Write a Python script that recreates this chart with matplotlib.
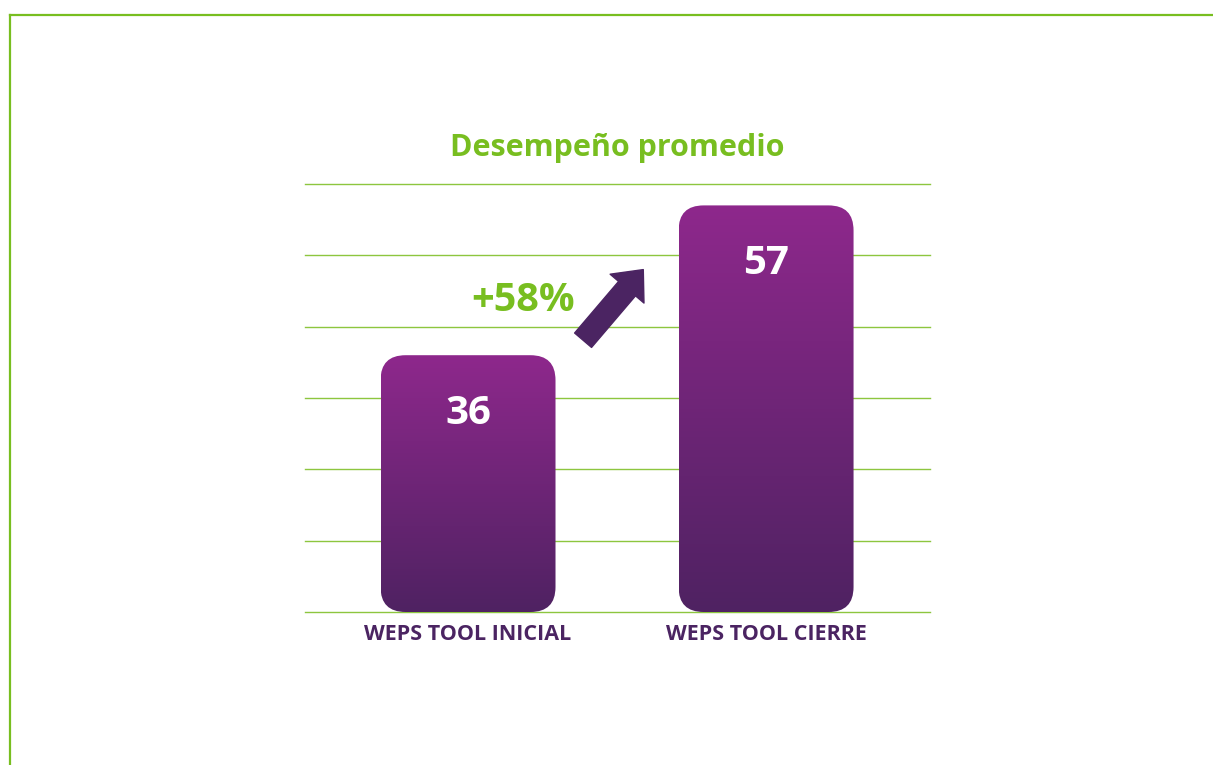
import numpy as np
import matplotlib.pyplot as plt
from matplotlib.patches import FancyBboxPatch
from matplotlib.lines import Line2D
from matplotlib.colors import LinearSegmentedColormap

plt.rcParams['font.family'] = ['Open Sans', 'DejaVu Sans']

categories = ["WEPS TOOL INICIAL", "WEPS TOOL CIERRE"]
values = [36, 57]
change_label = "+58%"
title = "Desempeño promedio"
y_ticks = [0, 10, 20, 30, 40, 50, 60]

green = "#78BE20"
grid_green = "#8DC63F"
dark_purple = "#4B2462"
grad = LinearSegmentedColormap.from_list("bar", ["#4F2262", "#8E288C"])

fig = plt.figure(figsize=(12.13, 7.65), dpi=100)
ax = fig.add_axes([305 / 1213, 153 / 765, 625 / 1213, 428 / 765])

# frame around the whole graphic
fig.add_artist(Line2D([10 / 1213, 1.0], [1 - 14.5 / 765] * 2, color=green, lw=1.6))
fig.add_artist(Line2D([10 / 1213] * 2, [0, 1 - 14.5 / 765], color=green, lw=1.6))

for t in y_ticks:
    ax.axhline(t, color=grid_green, lw=1.0, zorder=0, clip_on=False)
for s in ax.spines.values():
    s.set_visible(False)
ax.set_xticks([])
ax.set_yticks([])

bar_w = 0.587
rx = 0.084
ry = 3.5
gradient = np.linspace(0, 1, 256).reshape(-1, 1)
for i, v in enumerate(values):
    patch = FancyBboxPatch((i - bar_w / 2, 0), bar_w, v,
                           boxstyle=f"round,pad=0,rounding_size={rx}",
                           mutation_aspect=ry / rx,
                           facecolor="none", edgecolor="none")
    ax.add_patch(patch)
    im = ax.imshow(gradient, cmap=grad, origin="lower", aspect="auto",
                   extent=(i - bar_w / 2, i + bar_w / 2, 0, v), zorder=2)
    im.set_clip_path(patch)
    ax.text(i, v - 8.2, str(v), ha="center", va="center", color="white",
            fontsize=29, fontweight="bold", zorder=3)
    ax.text(i, -3.15, categories[i], ha="center", va="center", color=dark_purple,
            fontsize=15.5, fontweight="bold", clip_on=False)

ax.set_xlim(-0.547, 1.55)
ax.set_ylim(0, 60)

ax.annotate("", xy=(0.588, 48.0), xytext=(0.386, 38.1),
            arrowprops=dict(arrowstyle="simple,head_width=3.2,head_length=1.8,tail_width=1.6",
                            mutation_scale=10, color=dark_purple, shrinkA=0, shrinkB=0))
ax.text(0.185, 43.7, change_label, ha="center", va="center", color=green,
        fontsize=28.5, fontweight="bold")

ax.text(0.5, 1.084, title, transform=ax.transAxes, ha="center", va="center",
        color=green, fontsize=22, fontweight="bold")

fig.savefig("out.png", dpi=100, facecolor="white")
